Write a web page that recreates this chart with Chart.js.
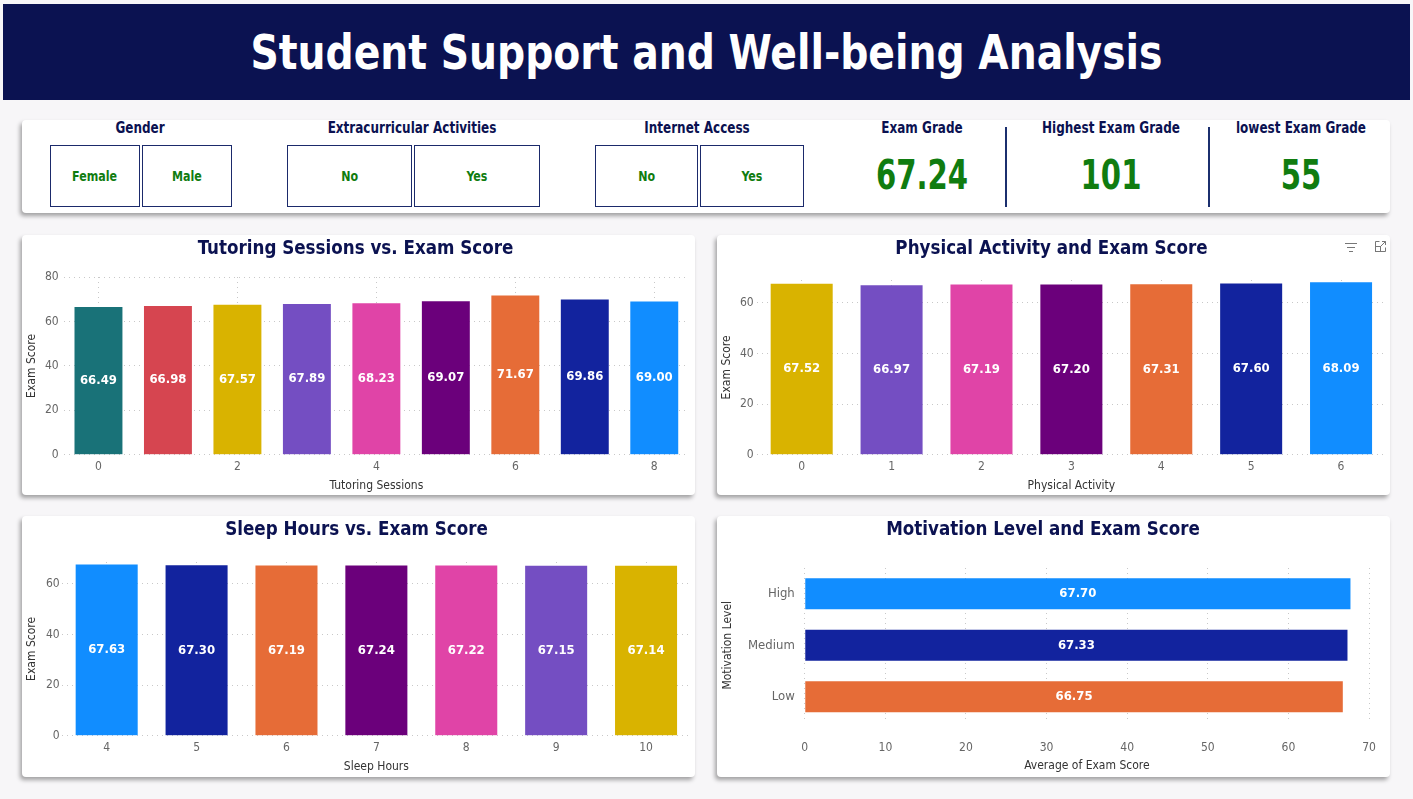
<!DOCTYPE html>
<html><head><meta charset="utf-8">
<script src="https://cdn.jsdelivr.net/npm/chart.js@4.4.0/dist/chart.umd.min.js"></script>
<style>
body{margin:0;width:1413px;height:799px;background:#f7f6f8;font-family:"DejaVu Sans Condensed","Open Sans",sans-serif;position:relative;overflow:hidden}
.abs{position:absolute}
.header{left:3px;top:4px;width:1407px;height:96px;background:#0b1251}
.header span{position:absolute;left:0;top:0;width:100%;height:100%;color:#fff;display:flex;align-items:center;justify-content:center;font-weight:700;font-size:48px;transform:scaleX(0.91)}
.panel{background:#fff;border-radius:4px;box-shadow:-2px 3px 4px rgba(0,0,0,0.35)}
.lbl{font-weight:700;font-size:15px;color:#0b1251;text-align:center;width:300px;margin-left:-150px;line-height:18px;transform:scaleX(0.89)}
.btn{border:1px solid #1b2a6b;box-sizing:border-box;display:flex;align-items:center;justify-content:center;color:#107c10;font-weight:700;font-size:14px}
.btn span{display:inline-block;transform:scaleX(0.88)}
.val{color:#107c10;font-weight:700;font-size:40px;text-align:center;width:200px;margin-left:-100px;line-height:44px;transform:scaleX(0.81)}
.sep{width:2px;background:#1b2f6e}
canvas{display:block}
</style></head>
<body>
<div class="abs header"><span>Student Support and Well-being Analysis</span></div>

<div class="abs panel" style="left:22px;top:120px;width:1368px;height:93px"></div>
<div id="kpis"></div>

<div class="abs panel" style="left:22px;top:235px;width:673px;height:260px"><canvas id="c1" width="673" height="260"></canvas></div>
<div class="abs panel" style="left:717px;top:235px;width:673px;height:260px"><canvas id="c2" width="673" height="260"></canvas>
  <svg class="abs" style="left:627px;top:6px" width="14" height="12" viewBox="0 0 14 12"><g stroke="#777" stroke-width="1"><line x1="1" y1="2.5" x2="13" y2="2.5"/><line x1="3" y1="6.5" x2="11" y2="6.5"/><line x1="5" y1="10.5" x2="9" y2="10.5"/></g></svg>
  <svg class="abs" style="left:657px;top:5px" width="13" height="13" viewBox="0 0 13 13"><g stroke="#777" stroke-width="1" fill="none"><path d="M5.5 1.5H1.5V11.5H11.5V7.5"/><rect x="1.5" y="6.5" width="5" height="5"/><path d="M7 6L11.5 1.5M8 1.5H11.5V5"/></g></svg>
</div>
<div class="abs panel" style="left:22px;top:516px;width:673px;height:261px"><canvas id="c3" width="673" height="261"></canvas></div>
<div class="abs panel" style="left:717px;top:516px;width:673px;height:261px"><canvas id="c4" width="673" height="261"></canvas></div>

<script>
// ---------- data ----------
const genderOptions = ['Female', 'Male'];
const extracurricularOptions = ['No', 'Yes'];
const internetOptions = ['No', 'Yes'];
const kpiTitles = ['Exam Grade', 'Highest Exam Grade', 'lowest Exam Grade'];
const kpiValues = ['67.24', '101', '55'];

const tutoringLabels = ['0', '1', '2', '3', '4', '5', '6', '7', '8'];
const tutoringScores = [66.49, 66.98, 67.57, 67.89, 68.23, 69.07, 71.67, 69.86, 69.00];

const physicalLabels = ['0', '1', '2', '3', '4', '5', '6'];
const physicalScores = [67.52, 66.97, 67.19, 67.20, 67.31, 67.60, 68.09];

const sleepLabels = ['4', '5', '6', '7', '8', '9', '10'];
const sleepScores = [67.63, 67.30, 67.19, 67.24, 67.22, 67.15, 67.14];

const motivationLabels = ['High', 'Medium', 'Low'];
const motivationScores = [67.70, 67.33, 66.75];

// ---------- styles ----------
const C = {blue:'#118DFF', navy:'#12239E', orange:'#E66C37', purple:'#6B007B', pink:'#E044A7', violet:'#744EC2', yellow:'#D9B300', red:'#D64550', teal:'#197278'};
const tutoringColors = [C.teal, C.red, C.yellow, C.violet, C.pink, C.purple, C.orange, C.navy, C.blue];
const physicalColors = [C.yellow, C.violet, C.pink, C.purple, C.orange, C.navy, C.blue];
const sleepColors = [C.blue, C.navy, C.orange, C.purple, C.pink, C.violet, C.yellow];
const motivationColors = [C.blue, C.navy, C.orange];

const FONT = '"DejaVu Sans Condensed","Open Sans",sans-serif';
Chart.defaults.font.family = FONT;
Chart.defaults.animation = false;

// ---------- KPI row (HTML) ----------
const kpis = document.getElementById('kpis');
function add(html){ kpis.insertAdjacentHTML('beforeend', html); }
function slicer(title, cx, opts, lefts, widths){
  add(`<div class="abs lbl" style="left:${cx}px;top:119px">${title}</div>`);
  opts.forEach((o,i)=>add(`<div class="abs btn" style="left:${lefts[i]}px;top:145px;width:${widths[i]}px;height:62px"><span>${o}</span></div>`));
}
slicer('Gender', 140, genderOptions, [50,142], [90,90]);
slicer('Extracurricular Activities', 412, extracurricularOptions, [287,414], [125,126]);
slicer('Internet Access', 697, internetOptions, [595,700], [103,104]);
const kpiX = [922, 1111, 1301];
kpiTitles.forEach((t,i)=>{
  add(`<div class="abs lbl" style="left:${kpiX[i]}px;top:119px">${t}</div>`);
  add(`<div class="abs val" style="left:${kpiX[i]}px;top:153px">${kpiValues[i]}</div>`);
});
add('<div class="abs sep" style="left:1005px;top:127px;height:80px"></div>');
add('<div class="abs sep" style="left:1208px;top:127px;height:80px"></div>');

// ---------- charts ----------
const valueLabels = {
  id: 'valueLabels',
  afterDatasetsDraw(chart){
    const ctx = chart.ctx;
    chart.data.datasets.forEach((ds, di)=>{
      chart.getDatasetMeta(di).data.forEach((el, i)=>{
        const p = el.getCenterPoint();
        ctx.save();
        ctx.fillStyle = '#fff';
        ctx.font = 'bold 13px ' + FONT;
        ctx.textAlign = 'center';
        ctx.textBaseline = 'middle';
        ctx.fillText(ds.data[i].toFixed(2), p.x, p.y);
        ctx.restore();
      });
    });
  }
};

const gridColor = '#c8c8c8';
const tickColor = '#666';
const axisTitleColor = '#333';
const titleFont = {size: 18.6, weight: 'bold'};

function columnChart(id, title, labels, values, colors, xTitle, yMax, cfg){
  return new Chart(document.getElementById(id), {
    type: 'bar',
    data: {labels, datasets: [{data: values, backgroundColor: colors, borderWidth: 0, barPercentage: 0.69, categoryPercentage: 1}]},
    options: {
      responsive: false,
      layout: {padding: {left: 0, right: cfg.right, top: 0, bottom: 0}},
      plugins: {
        legend: {display: false}, tooltip: {enabled: false},
        title: {display: true, text: title, color: '#0b1251', font: titleFont, padding: {top: 2.84, bottom: cfg.titleBottom}}
      },
      scales: {
        x: {
          grid: {color: gridColor, drawTicks: false, offset: false},
          border: {display: false, dash: [1, 4]},
          ticks: {color: tickColor, font: {size: 12}, padding: 4.8, maxRotation: 0, autoSkip: true, maxTicksLimit: cfg.skip ? 5 : undefined},
          title: {display: true, text: xTitle, color: axisTitleColor, font: {size: 12}, padding: {top: 0, bottom: cfg.xTitleBottom}}
        },
        y: {
          min: 0, max: yMax,
          afterBuildTicks: s => { s.ticks = s.ticks.filter(t => t.value % 20 === 0); },
          grid: {color: gridColor, drawTicks: false},
          border: {display: false, dash: [1, 4]},
          ticks: {stepSize: 20, color: tickColor, font: {size: 12}, padding: cfg.yPad},
          title: {display: true, text: 'Exam Score', color: axisTitleColor, font: {size: 12}, padding: {top: 2.8, bottom: cfg.yTitleBottom}}
        }
      }
    },
    plugins: [valueLabels]
  });
}

columnChart('c1', 'Tutoring Sessions vs. Exam Score', tutoringLabels, tutoringScores, tutoringColors, 'Tutoring Sessions', 80,
  {right: 6, titleBottom: 16.84, xTitleBottom: 1.8, yPad: 5, yTitleBottom: 0.8, skip: true});
columnChart('c2', 'Physical Activity and Exam Score', physicalLabels, physicalScores, physicalColors, 'Physical Activity', 69,
  {right: 4, titleBottom: 19.84, xTitleBottom: 1.8, yPad: 3, yTitleBottom: 2.8, skip: false});
columnChart('c3', 'Sleep Hours vs. Exam Score', sleepLabels, sleepScores, sleepColors, 'Sleep Hours', 68.6,
  {right: 4, titleBottom: 20.84, xTitleBottom: 2.8, yPad: 2, yTitleBottom: 4.8, skip: false});

new Chart(document.getElementById('c4'), {
  type: 'bar',
  data: {labels: motivationLabels, datasets: [{data: motivationScores, backgroundColor: motivationColors, borderWidth: 0, barPercentage: 0.6, categoryPercentage: 1}]},
  options: {
    indexAxis: 'y',
    responsive: false,
    layout: {padding: {left: 0, right: 21, top: 0, bottom: 0}},
    plugins: {
      legend: {display: false}, tooltip: {enabled: false},
      title: {display: true, text: 'Motivation Level and Exam Score', color: '#0b1251', font: titleFont, padding: {top: 2.84, bottom: 26.84}}
    },
    scales: {
      x: {
        min: 0, max: 70,
        grid: {color: gridColor, drawTicks: true, tickLength: 16.3, tickColor: 'rgba(0,0,0,0)'},
        border: {display: false, dash: [1, 4]},
        ticks: {stepSize: 10, color: tickColor, font: {size: 12}, padding: 2},
        title: {display: true, text: 'Average of Exam Score', color: axisTitleColor, font: {size: 12}, padding: {top: 1.6, bottom: 3.8}}
      },
      y: {
        grid: {display: false, drawTicks: false},
        border: {display: false},
        ticks: {color: tickColor, font: {size: 13}, padding: 10},
        title: {display: true, text: 'Motivation Level', color: axisTitleColor, font: {size: 12}, padding: {top: 3.8, bottom: 2.8}}
      }
    }
  },
  plugins: [valueLabels]
});
</script>
</body></html>
